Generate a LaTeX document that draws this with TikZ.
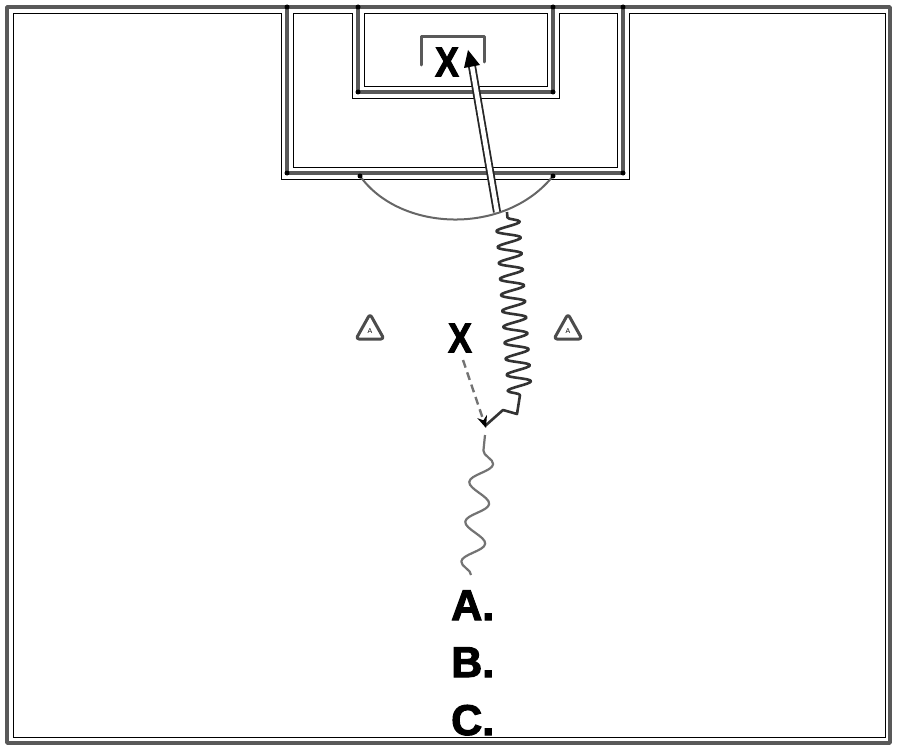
\documentclass[tikz,border=0pt]{standalone}
\usepackage{fontspec}
\setmainfont{Liberation Sans}
\newfontfamily\heavyfont[FakeBold=2.5]{Liberation Sans Bold}
\usetikzlibrary{decorations.pathmorphing,arrows.meta,calc}
\begin{document}
\begin{tikzpicture}[x=1pt,y=-1pt,
  fieldline/.style={draw=black!65,line width=3.5pt,line join=round,line cap=round},
  thinline/.style={draw=black,line width=0.8pt},
  jdot/.style={fill=black,circle,inner sep=0pt,minimum size=5pt},
  player/.style={font=\heavyfont\fontsize{42}{42}\selectfont,inner sep=0pt,xscale=0.85},
  rowlabel/.style={font=\heavyfont\fontsize{43}{43}\selectfont,inner sep=0pt,anchor=base west},
  cone/.style={draw=black!70,line width=3pt,rounded corners=3pt,line join=round},
  shot/.style={draw=black!85,line width=1.8pt,double=white,double distance=4.5pt},
  dribbleA/.style={draw=black!80,line width=2.6pt,line join=round,
    decoration={snake,segment length=16pt,amplitude=12pt}},
  dribbleB/.style={draw=black!55,line width=2.2pt,line join=round,
    decoration={snake,segment length=40pt,amplitude=11pt}},
  runline/.style={draw=black!55,line width=2.4pt,dash pattern=on 8pt off 5pt,
    -{Stealth[length=12pt,width=10pt,black]}},
]
\useasboundingbox (0,0) rectangle (900,752);
\fill[white] (0,0) rectangle (900,752);

% thin inner offset lines
\draw[thinline] (13,13) -- (281,13) -- (281,179) -- (629,179) -- (629,13) -- (885,13) -- (885,737) -- (13,737) -- cycle;
\draw[thinline] (293,13) -- (352,13) -- (352,98) -- (559,98) -- (559,13) -- (617,13) -- (617,167) -- (293,167) -- cycle;
\draw[thinline] (364,13) -- (547,13) -- (547,86) -- (364,86) -- cycle;

% field, penalty box, goal area
\draw[fieldline] (7,7) rectangle (890,743);
\draw[fieldline] (287,7) -- (287,173) -- (623,173) -- (623,7);
\draw[fieldline] (358,7) -- (358,92) -- (553,92) -- (553,7);
% goal
\draw[fieldline,line width=3pt] (421,65) -- (421,37) -- (484,37) -- (484,62);
% penalty arc
\coordinate (arcL) at (360,176);
\coordinate (arcR) at (553,176);
\draw[draw=black!60,line width=2pt] (arcL) .. controls (400,232) and (505,236) .. (arcR);

% junction dots
\foreach \p in {(287,7),(358,7),(553,7),(623,7),(287,173),(623,173),(358,92),(553,92),(360,176),(553,176)}
  \node[jdot] at \p {};

% cones
\draw[cone] (370,314) -- (384,339) -- (356,339) -- cycle;
\draw[cone] (568,314) -- (582,339) -- (554,339) -- cycle;
\node[font=\fontsize{7}{7}\selectfont,inner sep=0pt] (c1) at (370,331) {A};
\node[font=\fontsize{7}{7}\selectfont,inner sep=0pt] (c2) at (568,331) {A};

% players
\node[player] (gk) at (447,62) {X};
\node[player] (def) at (460,338) {X};

% shot
\coordinate (shotS) at (497,212);
\coordinate (shotE) at (472,66);
\coordinate (shotTip) at (468,50);
\draw[shot] (shotS) -- (shotE);
\fill[black] (shotTip) -- ($(shotE)+(-8,2)$) -- ($(shotE)+(8,-1)$) -- cycle;

% upper dribble
\coordinate (r0) at (485,426);
\coordinate (r1) at (503,410);
\coordinate (r2) at (517,414);
\coordinate (r3) at (520,395);
\coordinate (r4) at (507,212);
\draw[dribbleA] (r0) -- (r1) -- (r2) -- (r3) decorate {-- (r4)};

% defender run
\coordinate (runS) at (463,360);
\coordinate (runE) at (486,428);
\draw[runline] (runS) -- (runE);

% lower dribble
\coordinate (l0) at (471,575);
\coordinate (l1) at (485,435);
\draw[dribbleB] (l0) decorate {-- (l1)};

% row labels
\node[rowlabel] (A) at (451,620) {A.};
\node[rowlabel] (B) at (451,677) {B.};
\node[rowlabel] (C) at (451,735) {C.};
\end{tikzpicture}
\end{document}
